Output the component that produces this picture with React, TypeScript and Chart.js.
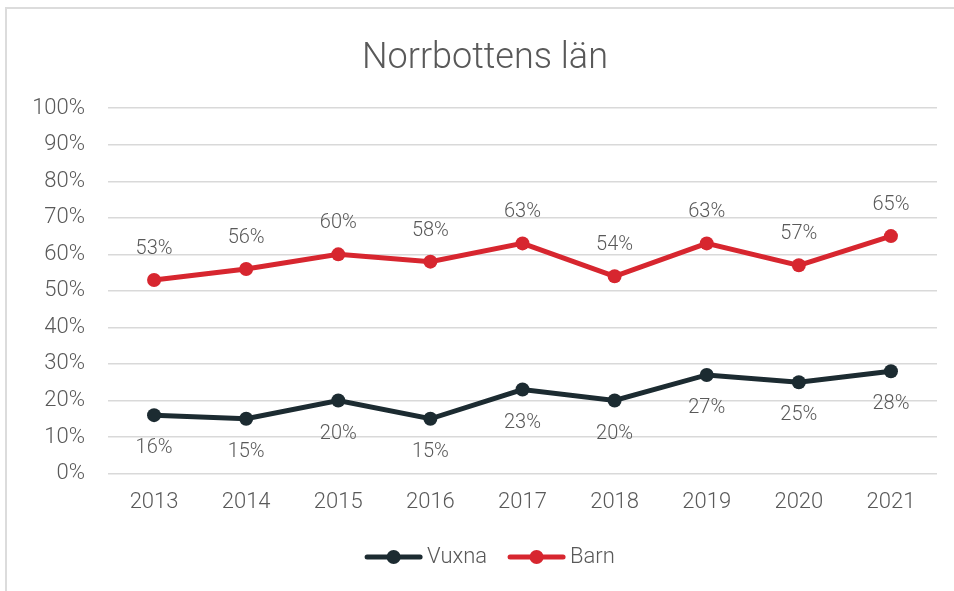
import React, { useEffect, useRef } from 'react';
import { Chart, registerables } from 'chart.js';

Chart.register(...registerables);

const categories = ['2013', '2014', '2015', '2016', '2017', '2018', '2019', '2020', '2021'];
const vuxna = [16, 15, 20, 15, 23, 20, 27, 25, 28];
const barn = [53, 56, 60, 58, 63, 54, 63, 57, 65];
const seriesNames = ['Vuxna', 'Barn'];
const seriesColors = ['#1c2b31', '#d7262f'];
const titleText = 'Norrbottens län';

const FONT = 'Roboto, "Helvetica Neue", Arial, sans-serif';
const TEXT = '#595959';

const dataLabelPlugin = {
  id: 'dataLabels',
  afterDatasetsDraw(chart: any) {
    const ctx = chart.ctx;
    ctx.save();
    ctx.font = `300 20px ${FONT}`;
    ctx.fillStyle = TEXT;
    ctx.textAlign = 'center';
    ctx.textBaseline = 'middle';
    chart.data.datasets.forEach((ds: any, i: number) => {
      const meta = chart.getDatasetMeta(i);
      const offset = i === 0 ? 33 : -31;
      meta.data.forEach((pt: any, j: number) => {
        ctx.fillText(`${ds.data[j]}%`, pt.x, pt.y + offset);
      });
    });
    ctx.restore();
  },
};

// Line + marker legend, centred under the chart
const lineLegendPlugin = {
  id: 'lineLegend',
  afterDraw(chart: any, _args: any, opts: any) {
    const ctx = chart.ctx;
    const iconW = 57;
    const gap = 5;
    const spacing = 21;
    ctx.save();
    ctx.font = `300 22px ${FONT}`;
    const items = chart.data.datasets.map((ds: any) => ({
      label: ds.label,
      color: ds.borderColor,
      w: ctx.measureText(ds.label).width,
    }));
    const total =
      items.reduce((s: number, it: any) => s + iconW + gap + it.w, 0) + spacing * (items.length - 1);
    let x = opts.centerX - total / 2;
    const y = chart.height - opts.bottomOffset;
    items.forEach((it: any) => {
      ctx.strokeStyle = it.color;
      ctx.lineWidth = 5;
      ctx.lineCap = 'round';
      ctx.beginPath();
      ctx.moveTo(x + 2, y);
      ctx.lineTo(x + iconW - 2, y);
      ctx.stroke();
      ctx.fillStyle = it.color;
      ctx.beginPath();
      ctx.arc(x + iconW / 2, y, 7, 0, Math.PI * 2);
      ctx.fill();
      ctx.fillStyle = TEXT;
      ctx.textAlign = 'left';
      ctx.textBaseline = 'middle';
      ctx.fillText(it.label, x + iconW + gap, y);
      x += iconW + gap + it.w + spacing;
    });
    ctx.restore();
  },
};

export default function App() {
  const ref = useRef<HTMLCanvasElement | null>(null);

  useEffect(() => {
    if (!ref.current) return;
    const chart = new Chart(ref.current, {
      type: 'line',
      data: {
        labels: categories,
        datasets: [
          {
            label: seriesNames[0],
            data: vuxna,
            borderColor: seriesColors[0],
            backgroundColor: seriesColors[0],
            borderWidth: 5,
            pointRadius: 7,
            pointHoverRadius: 7,
            pointBorderWidth: 0,
            tension: 0,
          },
          {
            label: seriesNames[1],
            data: barn,
            borderColor: seriesColors[1],
            backgroundColor: seriesColors[1],
            borderWidth: 5,
            pointRadius: 7,
            pointHoverRadius: 7,
            pointBorderWidth: 0,
            tension: 0,
          },
        ],
      },
      options: {
        animation: false,
        responsive: false,
        maintainAspectRatio: false,
        layout: { padding: { left: 33, right: 17, top: 20, bottom: 59 } },
        plugins: {
          title: {
            display: true,
            text: titleText,
            color: TEXT,
            font: { family: FONT, size: 36, weight: '300' as any, lineHeight: 1.2 },
            padding: { top: 17, bottom: 28 },
          },
          legend: { display: false },
          tooltip: { enabled: false },
          lineLegend: { centerX: 490, bottomOffset: 34 },
        } as any,
        scales: {
          x: {
            offset: true,
            grid: { display: false, drawTicks: false },
            border: { display: false },
            ticks: {
              color: TEXT,
              font: { family: FONT, size: 22, weight: '300' as any },
              padding: 16,
            },
          },
          y: {
            min: 0,
            max: 100,
            afterFit: (s: any) => {
              s.width = 75;
            },
            grid: { color: '#d9d9d9', lineWidth: 1.5, drawTicks: false },
            border: { display: false },
            ticks: {
              stepSize: 10,
              color: TEXT,
              font: { family: FONT, size: 22, weight: '300' as any },
              padding: 23,
              callback: (v: any) => `${v}%`,
            },
          },
        },
      },
      plugins: [dataLabelPlugin, lineLegendPlugin],
    });
    return () => chart.destroy();
  }, []);

  return (
    <div style={{ position: 'fixed', left: 0, top: 0, width: 954, height: 591, overflow: 'hidden', background: '#fff' }}>
      <div
        style={{
          position: 'absolute',
          left: 5,
          top: 7,
          width: 1000,
          height: 700,
          border: '2px solid #dcdcdc',
          boxSizing: 'border-box',
        }}
      />
      <canvas ref={ref} width={954} height={591} style={{ position: 'absolute', left: 0, top: 0 }} />
    </div>
  );
}
